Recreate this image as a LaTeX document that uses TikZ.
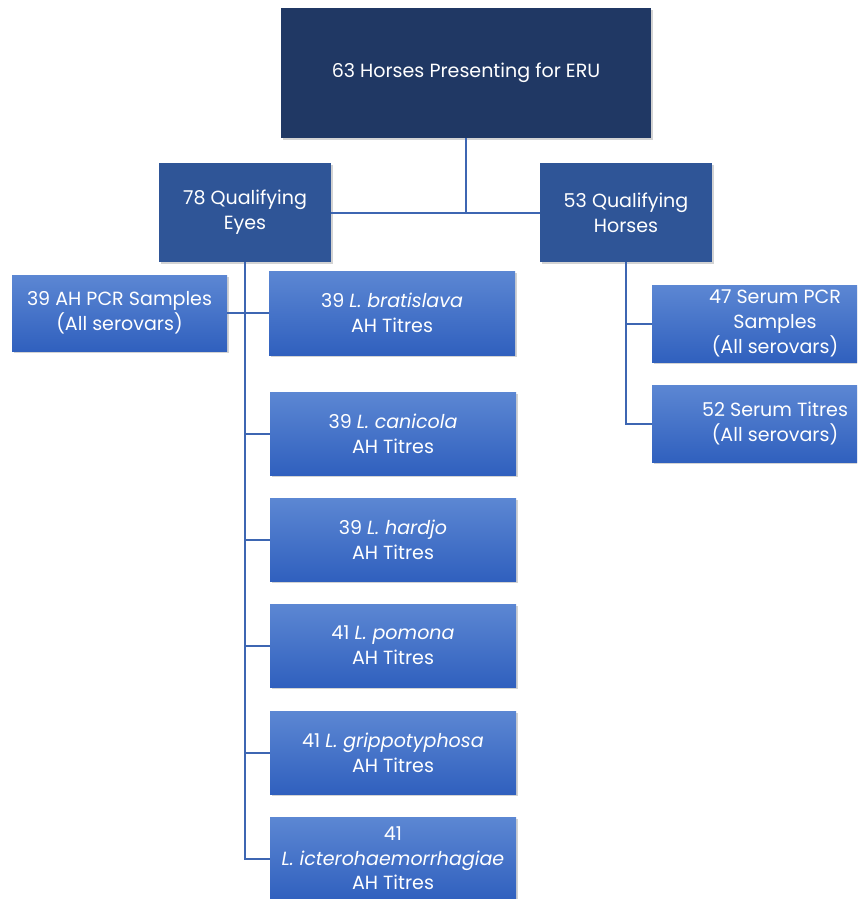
\documentclass[tikz,border=0pt]{standalone}
\usepackage{fontspec}
\setmainfont{Poppins}
\usepackage{xcolor}
\usepackage{tikz}
\usetikzlibrary{shadows}

\definecolor{navy}{HTML}{203864}
\definecolor{midblue}{HTML}{2F5597}
\definecolor{gradtop}{HTML}{5C87D3}
\definecolor{gradbot}{HTML}{3060BE}
\definecolor{linkblue}{HTML}{3D66B2}

\begin{document}
\begin{tikzpicture}[
  x=0.75pt, y=-0.75pt,
  box/.style={inner sep=0pt, align=center, text=white,
    font=\fontsize{14.3}{18.5}\selectfont,
    drop shadow={opacity=0.35, shadow xshift=1.2pt, shadow yshift=-1.2pt}},
  rootbox/.style={box, fill=navy, minimum width=277.5pt, minimum height=97.5pt},
  groupbox/.style={box, fill=midblue, minimum width=129pt, minimum height=74.25pt},
  leafbox/.style={box, top color=gradtop, bottom color=gradbot,
    minimum width=184.5pt, minimum height=62.25pt},
  link/.style={draw=linkblue, line width=1.5pt}
]
\useasboundingbox (0,0) rectangle (857,899);
\clip (0,0) rectangle (857,899);

% Top level
\node[rootbox] (root) at (466,73) {63 Horses Presenting for ERU};

% Second level
\node[groupbox] (eyes) at (245,212.5) {78 Qualifying\\Eyes};
\node[groupbox] (horses) at (626,212.5) {53 Qualifying\\Horses};

% Eye samples
\node[leafbox, minimum width=161.25pt, minimum height=57pt] (ahpcr) at (119.5,313) {39 AH PCR Samples\\(All serovars)};
\node[leafbox, minimum height=63pt] (brat) at (392,313) {39 \textit{L. bratislava}\\AH Titres};
\node[leafbox] (cani) at (393,433.5) {39 \textit{L. canicola}\\AH Titres};
\node[leafbox] (hard) at (393,539.5) {39 \textit{L. hardjo}\\AH Titres};
\node[leafbox] (pomo) at (393,645.5) {41 \textit{L. pomona}\\AH Titres};
\node[leafbox] (grip) at (393,752.5) {41 \textit{L. grippotyphosa}\\AH Titres};
\node[leafbox] (icte) at (393,858.5) {41\\\textit{L. icterohaemorrhagiae}\\AH Titres};

% Horse samples
\node[leafbox, minimum height=57.75pt] (spcr) at (775,323.5) {47 Serum PCR\\Samples\\(All serovars)};
\node[leafbox, minimum height=57.75pt] (stit) at (775,423.5) {52 Serum Titres\\(All serovars)};

% Connectors
\draw[link] (root.south) -- (root.south |- eyes.east);
\draw[link] (eyes.east) -- (horses.west);
\draw[link] (eyes.south) |- (icte.west);
\foreach \n in {brat, cani, hard, pomo, grip}{
  \draw[link] (eyes.south |- \n.west) -- (\n.west);
}
\draw[link] (ahpcr.east) -- (brat.west);
\draw[link] (horses.south) |- (stit.west);
\draw[link] (horses.south |- spcr.west) -- (spcr.west);
\end{tikzpicture}
\end{document}
